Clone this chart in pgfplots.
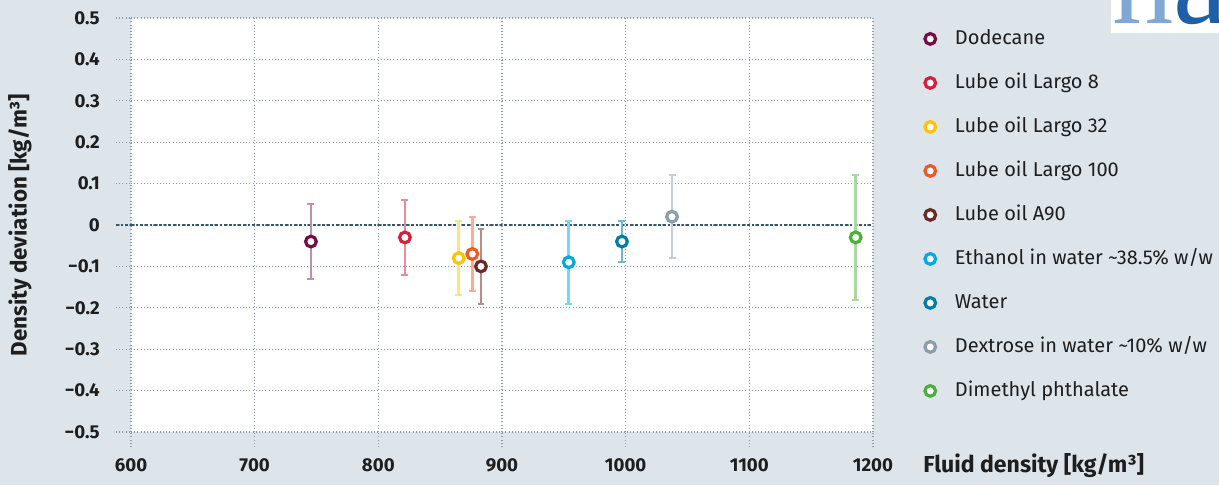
\documentclass[border=0pt]{standalone}
\usepackage{pgfplots}
\pgfplotsset{compat=1.18}
\usepackage{fontspec}
\setmainfont{Fira Sans}
\newfontfamily\logofont{Liberation Serif}
\definecolor{bgcol}{HTML}{DDE5EB}
\definecolor{gridcol}{HTML}{8A9CAA}
\definecolor{zerocol}{HTML}{3C5566}
\definecolor{txt}{HTML}{1E1E1E}
\definecolor{cA}{HTML}{7A0A42}\definecolor{cAl}{HTML}{C48DAB}
\definecolor{cB}{HTML}{D91F3C}\definecolor{cBl}{HTML}{EC8A99}
\definecolor{cC}{HTML}{FFC400}\definecolor{cCl}{HTML}{FFE47E}
\definecolor{cD}{HTML}{EE5A24}\definecolor{cDl}{HTML}{F8AE92}
\definecolor{cE}{HTML}{6A2A26}\definecolor{cEl}{HTML}{B48E8A}
\definecolor{cF}{HTML}{00A9E6}\definecolor{cFl}{HTML}{7FD3F3}
\definecolor{cG}{HTML}{007FA6}\definecolor{cGl}{HTML}{6FB6CF}
\definecolor{cH}{HTML}{8A9FAB}\definecolor{cHl}{HTML}{C3CED5}
\definecolor{cI}{HTML}{4DAE3C}\definecolor{cIl}{HTML}{A9D9A0}
\pgfplotsset{
  pt/.style 2 args={only marks, mark=*, mark size=4pt,
    mark options={line width=2.4pt, draw=#1, fill=white},
    error bars/.cd, y dir=both, y explicit,
    error bar style={line width=2pt, color=#2},
    error mark options={rotate=90, mark size=2.6pt, line width=1.5pt, color=#2}},
}
\begin{document}
\begin{tikzpicture}
\useasboundingbox (0,0) rectangle (914.25pt,363.75pt);
\fill[bgcol] (0,0) rectangle (914.25pt,363.75pt);
\begin{scope}
\clip (833.25pt,339pt) rectangle (914.25pt,363.75pt);
\fill[white] (833.25pt,339pt) rectangle (914.25pt,363.75pt);
\node[anchor=base west, inner sep=0pt, font=\logofont\fontsize{92}{92}\selectfont] at (834pt,345.75pt) {\textcolor[HTML]{7FA9D4}{n}\textcolor[HTML]{1F5FA8}{a}};
\end{scope}
\begin{axis}[
  at={(98.25pt,39.75pt)}, anchor=south west,
  scale only axis, width=556.5pt, height=310.5pt,
  xmin=600, xmax=1200, ymin=-0.5, ymax=0.5,
  axis background/.style={fill=white},
  axis line style={draw=none},
  xtick={600,700,800,900,1000,1100,1200},
  xticklabels={600,700,800,900,1000,1100,1200},
  ytick={-0.5,-0.4,-0.3,-0.2,-0.1,0,0.1,0.2,0.3,0.4,0.5},
  yticklabels={−0.5,−0.4,−0.3,−0.2,−0.1,0,0.1,0.2,0.3,0.4,0.5},
  xtick pos=bottom, ytick pos=left,
  tick align=outside, major tick length=11.25pt,
  major tick style={dash pattern=on 0.8pt off 1.6pt, color=gridcol, line width=0.8pt},
  grid=major,
  major grid style={dash pattern=on 0.8pt off 1.6pt, color=gridcol, line width=0.8pt},
  extra y ticks={0}, extra y tick labels={},
  extra y tick style={major grid style={dash pattern=on 2pt off 1.5pt, color=zerocol, line width=0.8pt},
     major tick style={dash pattern=on 2pt off 1.5pt, color=zerocol, line width=0.8pt}},
  ticklabel style={font=\bfseries\fontsize{14}{16}\selectfont, text=txt},
  yticklabel style={inner sep=0pt, anchor=east, xshift=-12pt},
  xticklabel style={inner sep=0pt, anchor=center, yshift=-14pt},
  xlabel={Fluid density [kg/m³]}, ylabel={Density deviation [kg/m³]},
  every axis x label/.style={at={(rel axis cs:1,0)}, anchor=west, inner sep=0pt, xshift=37.5pt, yshift=-25.5pt,
     font=\bfseries\fontsize{17.3}{20}\selectfont, text=txt},
  every axis y label/.style={at={(rel axis cs:0,0.5)}, anchor=center, rotate=90, inner sep=0pt, yshift=83.25pt,
     font=\bfseries\fontsize{16.8}{19}\selectfont, text=txt},
  legend style={at={(rel axis cs:1,1)}, anchor=north west, xshift=35.75pt, yshift=-6.5pt,
     draw=none, fill=none, font=\fontsize{15}{18}\selectfont, text=txt,
     nodes={inner sep=0pt, text height=11pt, text depth=3pt, anchor=west},
     /tikz/row sep=19pt, /tikz/column sep=14.5pt},
  legend cell align=left,
]
\addplot[pt={cA}{cAl}] coordinates {(745.5,-0.04) +- (0,0.09)};
\addlegendentry{Dodecane}
\addplot[pt={cB}{cBl}] coordinates {(821.5,-0.03) +- (0,0.09)};
\addlegendentry{Lube oil Largo 8}
\addplot[pt={cC}{cCl}] coordinates {(865,-0.08) +- (0,0.09)};
\addlegendentry{Lube oil Largo 32}
\addplot[pt={cD}{cDl}] coordinates {(876,-0.07) +- (0,0.09)};
\addlegendentry{Lube oil Largo 100}
\addplot[pt={cE}{cEl}] coordinates {(883,-0.10) +- (0,0.09)};
\addlegendentry{Lube oil A90}
\addplot[pt={cF}{cFl}] coordinates {(954,-0.09) +- (0,0.10)};
\addlegendentry{Ethanol in water \textasciitilde38.5\% w/w}
\addplot[pt={cG}{cGl}] coordinates {(997,-0.04) +- (0,0.05)};
\addlegendentry{Water}
\addplot[pt={cH}{cHl}] coordinates {(1037.5,0.02) +- (0,0.10)};
\addlegendentry{Dextrose in water \textasciitilde10\% w/w}
\addplot[pt={cI}{cIl}] coordinates {(1186,-0.03) +- (0,0.15)};
\addlegendentry{Dimethyl phthalate}
\end{axis}
\end{tikzpicture}
\end{document}
